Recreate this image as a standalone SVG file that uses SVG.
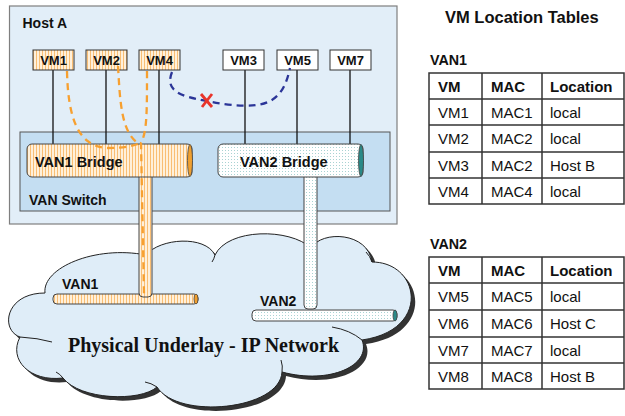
<svg xmlns="http://www.w3.org/2000/svg" width="625" height="416" viewBox="0 0 625 416">
<defs>
<pattern id="stripe" width="3" height="4" patternUnits="userSpaceOnUse"><rect width="3" height="4" fill="#FFF0DA"/><rect width="1" height="4" fill="#F9BE74"/></pattern>
<pattern id="dots" width="3" height="3" patternUnits="userSpaceOnUse"><rect width="3" height="3" fill="#FFFFFF"/><rect width="1" height="1" fill="#A9D3D3"/></pattern>
<path id="cloudShape" d="M45 293 C42 268 95 245 146 255 C160 238 205 235 215 255 C228 228 290 228 311 248 C322 230 368 232 372 262 C420 262 432 330 362 340 C372 365 330 385 282 372 C280 410 178 420 157 387 C140 402 80 400 63 378 C30 382 8 360 20 337 C0 330 5 293 45 293 Z"/>
</defs>
<style>
.b{font-family:"Liberation Sans",Arial,sans-serif;font-weight:bold;fill:#111}
.t{font-family:"Liberation Sans",Arial,sans-serif;fill:#111;font-size:15px}
.th{font-family:"Liberation Sans",Arial,sans-serif;font-weight:bold;fill:#111;font-size:15px}
.vm{stroke:#333;stroke-width:1}
.wire{stroke:#111;stroke-width:1.3;fill:none}
.grid{stroke:#333;stroke-width:1.5;fill:none}
.pipe{stroke:#444;stroke-width:1}
.arc{fill:none;stroke:#222;stroke-width:1}
</style>

<g id="cloud">
<use href="#cloudShape" transform="translate(4,4)" fill="#333"/>
<use href="#cloudShape" fill="#DFEDF8" stroke="#222" stroke-width="1"/>
<path class="arc" d="M20 337 Q38 338 52 342"/>
<path class="arc" d="M332 327 Q350 330 362 340"/>
<path class="arc" d="M215 255 Q214 259 212 262"/>
<path class="arc" d="M372 262 Q370 256 366 252"/>
<path class="arc" d="M282 372 Q283 366 281 360"/>
<path class="arc" d="M157 387 Q151 383 145 382"/>
<path class="arc" d="M63 378 Q60 374 56 372"/>
<text x="68" y="352" font-family="'Liberation Serif','Times New Roman',serif" font-weight="bold" font-size="20" fill="#111">Physical Underlay - IP Network</text>
</g>

<g id="host-a">
<rect x="9.5" y="6" width="387.5" height="218" fill="#E2EEF8" stroke="#7F7F7F" stroke-width="1.2"/>
<text class="b" x="22.5" y="28" font-size="14">Host A</text>
</g>

<g id="van-switch">
<rect x="20" y="132" width="370" height="79" fill="#C4DEF2" stroke="#555" stroke-width="1"/>
<text class="b" x="29" y="205" font-size="14">VAN Switch</text>
</g>

<g id="vm-wires">
<line class="wire" x1="53" y1="70" x2="53" y2="145"/>
<line class="wire" x1="106" y1="70" x2="106" y2="145"/>
<line class="wire" x1="159" y1="70" x2="159" y2="145"/>
<line class="wire" x1="245" y1="70" x2="245" y2="145"/>
<line class="wire" x1="297" y1="70" x2="297" y2="145"/>
<line class="wire" x1="350" y1="70" x2="350" y2="145"/>
</g>

<g id="van1-net">
<rect class="pipe" x="53" y="294" width="145" height="10" rx="4" fill="url(#stripe)"/>
<ellipse cx="196" cy="299" rx="2" ry="5" fill="#F0A030" stroke="#444" stroke-width="0.8"/>
<rect class="pipe" x="139" y="170" width="13" height="127" rx="4" fill="url(#stripe)"/>
<text class="b" x="62" y="289" font-size="14">VAN1</text>
</g>

<g id="van2-net">
<rect class="pipe" x="252" y="310" width="145" height="11" rx="4" fill="url(#dots)"/>
<ellipse cx="395" cy="315.5" rx="2" ry="5.5" fill="#2A8A88" stroke="#444" stroke-width="0.8"/>
<rect class="pipe" x="304" y="170" width="13" height="139" rx="4" fill="url(#dots)"/>
<text class="b" x="260" y="306" font-size="14">VAN2</text>
</g>

<g id="van1-bridge">
<rect class="pipe" x="27" y="144" width="165" height="33" rx="5" fill="url(#stripe)"/>
<ellipse cx="190" cy="160.5" rx="2.5" ry="16" fill="#F0A030" stroke="#444" stroke-width="0.8"/>
<text class="b" x="35" y="167" font-size="14.5">VAN1 Bridge</text>
</g>

<g id="van2-bridge">
<rect class="pipe" x="218" y="144" width="145" height="33" rx="5" fill="url(#dots)"/>
<ellipse cx="361" cy="160.5" rx="2.5" ry="16" fill="#2A8A88" stroke="#444" stroke-width="0.8"/>
<text class="b" x="240" y="167" font-size="14.5">VAN2 Bridge</text>
</g>

<g id="vm1"><rect class="vm" x="33" y="50" width="41" height="20" fill="url(#stripe)"/><text class="b" x="53.5" y="65" font-size="13" text-anchor="middle">VM1</text></g>
<g id="vm2"><rect class="vm" x="86" y="50" width="41" height="20" fill="url(#stripe)"/><text class="b" x="106.5" y="65" font-size="13" text-anchor="middle">VM2</text></g>
<g id="vm4"><rect class="vm" x="139" y="50" width="41" height="20" fill="url(#stripe)"/><text class="b" x="159.5" y="65" font-size="13" text-anchor="middle">VM4</text></g>
<g id="vm3"><rect class="vm" x="223" y="50" width="41" height="20" fill="#fff"/><text class="b" x="243.5" y="65" font-size="13" text-anchor="middle">VM3</text></g>
<g id="vm5"><rect class="vm" x="277" y="50" width="41" height="20" fill="#fff"/><text class="b" x="297.5" y="65" font-size="13" text-anchor="middle">VM5</text></g>
<g id="vm7"><rect class="vm" x="330" y="50" width="41" height="20" fill="#fff"/><text class="b" x="350.5" y="65" font-size="13" text-anchor="middle">VM7</text></g>

<g id="connectors" fill="none" stroke-width="2.3" stroke-dasharray="7 5">
<path d="M67 71 C68 118 78 147 108 148 C124 148 134 146 140 143" stroke="#F7A030"/>
<path d="M118 66 C120 100 121 132 138 143" stroke="#F7A030"/>
<path d="M147 71 C147 112 147 132 141 143 L144 294" stroke="#F7A030"/>
<path d="M172 72 C165 90 178 96 207 101 C230 106 255 108 268 102 C282 96 287 82 290 68" stroke="#2B3598"/>
<g stroke="#E8342A" stroke-width="2.8" stroke-dasharray="none">
<line x1="201" y1="94" x2="212" y2="107"/>
<line x1="212" y1="94" x2="202" y2="107"/>
</g>
</g>

<g id="tables">
<text class="b" x="445" y="23" font-size="16.5">VM Location Tables</text>
<text class="b" x="430" y="65" font-size="14.3">VAN1</text>
<rect class="grid" x="429" y="73" width="195" height="131"/>
<line class="grid" x1="482" y1="73" x2="482" y2="204"/>
<line class="grid" x1="542" y1="73" x2="542" y2="204"/>
<line class="grid" x1="429" y1="99" x2="624" y2="99"/>
<line class="grid" x1="429" y1="125" x2="624" y2="125"/>
<line class="grid" x1="429" y1="152" x2="624" y2="152"/>
<line class="grid" x1="429" y1="178" x2="624" y2="178"/>
<text class="th" x="438" y="92">VM</text><text class="th" x="491" y="92">MAC</text><text class="th" x="550" y="92">Location</text>
<text class="t" x="438" y="118">VM1</text><text class="t" x="491" y="118">MAC1</text><text class="t" x="550" y="118">local</text>
<text class="t" x="438" y="144">VM2</text><text class="t" x="491" y="144">MAC2</text><text class="t" x="550" y="144">local</text>
<text class="t" x="438" y="171">VM3</text><text class="t" x="491" y="171">MAC2</text><text class="t" x="550" y="171">Host B</text>
<text class="t" x="438" y="197">VM4</text><text class="t" x="491" y="197">MAC4</text><text class="t" x="550" y="197">local</text>

<text class="b" x="430" y="249" font-size="14.3">VAN2</text>
<rect class="grid" x="429" y="257" width="195" height="132"/>
<line class="grid" x1="482" y1="257" x2="482" y2="389"/>
<line class="grid" x1="542" y1="257" x2="542" y2="389"/>
<line class="grid" x1="429" y1="283" x2="624" y2="283"/>
<line class="grid" x1="429" y1="310" x2="624" y2="310"/>
<line class="grid" x1="429" y1="337" x2="624" y2="337"/>
<line class="grid" x1="429" y1="363" x2="624" y2="363"/>
<text class="th" x="438" y="276">VM</text><text class="th" x="491" y="276">MAC</text><text class="th" x="550" y="276">Location</text>
<text class="t" x="438" y="302">VM5</text><text class="t" x="491" y="302">MAC5</text><text class="t" x="550" y="302">local</text>
<text class="t" x="438" y="329">VM6</text><text class="t" x="491" y="329">MAC6</text><text class="t" x="550" y="329">Host C</text>
<text class="t" x="438" y="356">VM7</text><text class="t" x="491" y="356">MAC7</text><text class="t" x="550" y="356">local</text>
<text class="t" x="438" y="382">VM8</text><text class="t" x="491" y="382">MAC8</text><text class="t" x="550" y="382">Host B</text>
</g>
</svg>
